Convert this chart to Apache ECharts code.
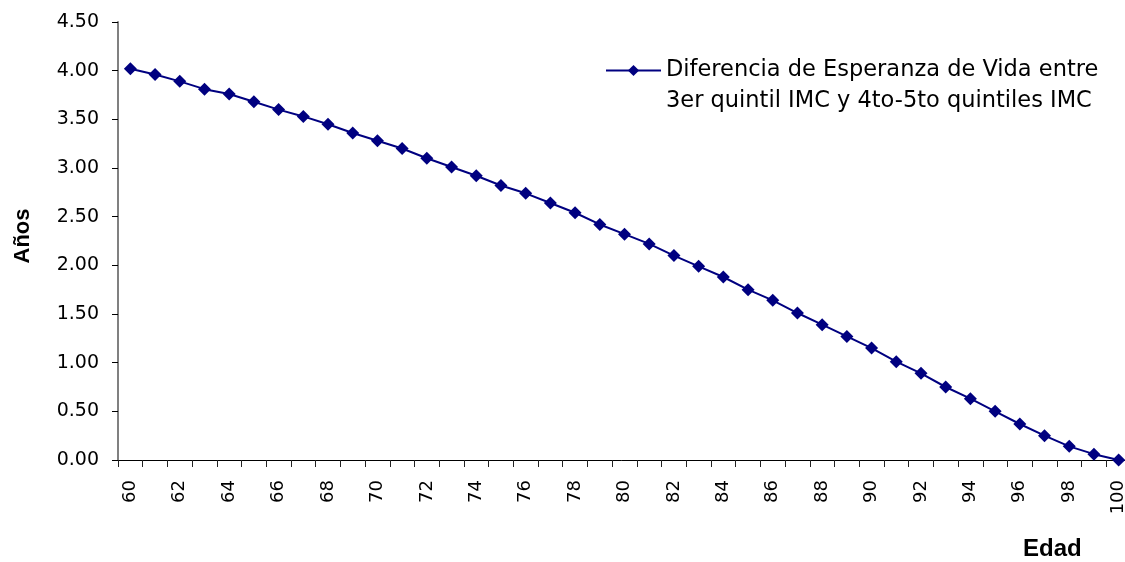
<!DOCTYPE html>
<html>
<head>
<meta charset="utf-8">
<script src="https://cdn.jsdelivr.net/npm/echarts@6/dist/echarts.min.js"></script>
<style>html,body{margin:0;padding:0;background:#fff}#c{width:1125px;height:562px}</style>
</head>
<body>
<div id="c"></div>
<script>
const categories = ['60','61','62','63','64','65','66','67','68','69','70','71','72','73','74','75','76','77','78','79','80','81','82','83','84','85','86','87','88','89','90','91','92','93','94','95','96','97','98','99','100'];
const diferencia = [4.02,3.96,3.89,3.81,3.76,3.68,3.60,3.53,3.45,3.36,3.28,3.20,3.10,3.01,2.92,2.82,2.74,2.64,2.54,2.42,2.32,2.22,2.10,1.99,1.88,1.75,1.64,1.51,1.39,1.27,1.15,1.01,0.89,0.75,0.63,0.50,0.37,0.25,0.14,0.06,0.00];
const seriesName = 'Diferencia de Esperanza de Vida entre\n3er quintil IMC y 4to-5to quintiles IMC';
const yTitle = 'Años';
const xTitle = 'Edad';

const FONT = 'DejaVu Sans, Verdana, sans-serif';
const chart = echarts.init(document.getElementById('c'));
chart.setOption({
  animation: false,
  textStyle: { fontFamily: FONT },
  grid: { left: 118, top: 22, right: -6, bottom: 102, containLabel: false, outerBoundsMode: 'none' },
  legend: {
    left: 605, top: 24,
    padding: 0,
    itemWidth: 55, itemHeight: 14, itemGap: 0,
    // blank first line keeps the icon level with the first text line
    formatter: name => ' \n' + name,
    textStyle: { fontSize: 22.5, fontFamily: FONT, color: '#000', lineHeight: 31 },
    data: [{ name: seriesName }]
  },
  graphic: [
    { type: 'text', left: 1023, top: 537, style: { text: xTitle, font: 'bold 24px Liberation Sans, Arial, sans-serif', fill: '#000' } },
    { type: 'text', x: 12, y: 236, rotation: Math.PI / 2, style: { text: yTitle, font: 'bold 22px Liberation Sans, Arial, sans-serif', fill: '#000', align: 'center', verticalAlign: 'top' } }
  ],
  xAxis: {
    type: 'category',
    data: categories,
    boundaryGap: true,
    axisLine: { lineStyle: { color: '#000', width: 1 } },
    axisTick: { show: true, alignWithLabel: false, interval: 0, length: 7, lineStyle: { color: '#222' } },
    axisLabel: { interval: 1, rotate: 90, fontSize: 18, color: '#000', margin: 20 },
    splitLine: { show: false }
  },
  yAxis: {
    type: 'value',
    min: 0, max: 4.5, interval: 0.5,
    axisLine: { show: true, lineStyle: { color: '#808080', width: 2 } },
    axisTick: { show: true, length: 6, lineStyle: { color: '#000' } },
    axisLabel: { fontSize: 19, color: '#000', margin: 19, formatter: v => v.toFixed(2) },
    splitLine: { show: false }
  },
  series: [{
    name: seriesName,
    type: 'line',
    data: diferencia,
    symbol: 'diamond',
    symbolSize: 13,
    itemStyle: { color: '#000080' },
    lineStyle: { color: '#000080', width: 2 }
  }]
});
</script>
</body>
</html>
